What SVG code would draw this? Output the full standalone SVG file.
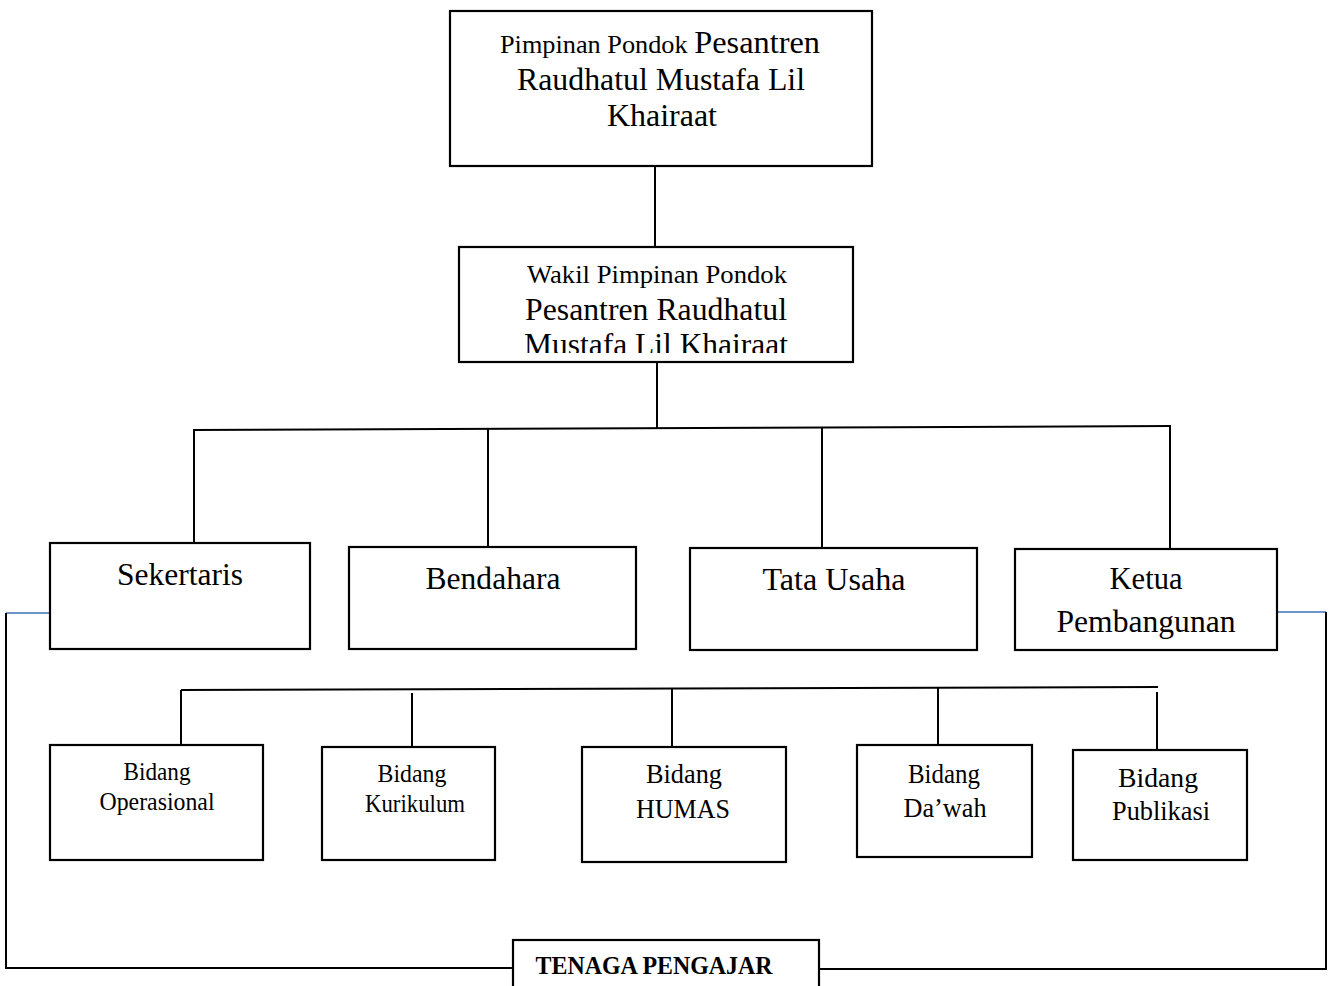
<svg xmlns="http://www.w3.org/2000/svg" width="1330" height="986" viewBox="0 0 1330 986">
<style>
.box{fill:#fff;stroke:#000;stroke-width:2.2}
.ln{fill:none;stroke:#000;stroke-width:2}
.bl{fill:none;stroke:#3f72b5;stroke-width:1.6}
text{font-family:"Liberation Serif","Times New Roman",serif;fill:#000;text-anchor:middle}
.big{font-size:32px}
.sm{font-size:26px}
.md{font-size:25px}
.hd{font-size:27px}
.tp{font-size:25px;font-weight:bold}
</style>
<defs>
<clipPath id="wclip"><rect x="459" y="247" width="394" height="106"/></clipPath>
</defs>
<g id="connectors">
<line class="ln" x1="655" y1="167" x2="655" y2="246"/>
<line class="ln" x1="657" y1="363" x2="657" y2="428"/>
<line class="ln" x1="193" y1="430" x2="1171" y2="426"/>
<line class="ln" x1="194" y1="430" x2="194" y2="543"/>
<line class="ln" x1="488" y1="429" x2="488" y2="547"/>
<line class="ln" x1="822" y1="427" x2="822" y2="548"/>
<line class="ln" x1="1170" y1="426" x2="1170" y2="549"/>
<line class="ln" x1="181" y1="690" x2="1158" y2="687"/>
<line class="ln" x1="181" y1="690" x2="181" y2="745"/>
<line class="ln" x1="412" y1="693" x2="412" y2="747"/>
<line class="ln" x1="672" y1="689" x2="672" y2="747"/>
<line class="ln" x1="938" y1="688" x2="938" y2="745"/>
<line class="ln" x1="1157" y1="692" x2="1157" y2="750"/>
<line class="bl" x1="50" y1="613" x2="6" y2="613"/>
<polyline class="ln" points="6,613 6,968 513,968"/>
<line class="bl" x1="1277" y1="612" x2="1326" y2="612"/>
<polyline class="ln" points="1326,612 1326,969 820,969"/>
</g>
<g id="pimpinan">
<rect class="box" x="450" y="11" width="422" height="155"/>
<text x="660" y="53" textLength="320" lengthAdjust="spacingAndGlyphs"><tspan class="sm">Pimpinan Pondok </tspan><tspan class="big">Pesantren</tspan></text>
<text class="big" x="661" y="90" textLength="288" lengthAdjust="spacingAndGlyphs">Raudhatul Mustafa Lil</text>
<text class="big" x="662" y="126" textLength="110" lengthAdjust="spacingAndGlyphs">Khairaat</text>
</g>
<g id="wakil">
<rect class="box" x="459" y="247" width="394" height="115"/>
<text class="sm" x="657" y="283" textLength="260" lengthAdjust="spacingAndGlyphs">Wakil Pimpinan Pondok</text>
<text class="big" x="656" y="320" textLength="262" lengthAdjust="spacingAndGlyphs">Pesantren Raudhatul</text>
<g clip-path="url(#wclip)"><text class="big" x="656" y="355" textLength="264" lengthAdjust="spacingAndGlyphs">Mustafa Lil Khairaat</text></g>
</g>
<g id="sekertaris">
<rect class="box" x="50" y="543" width="260" height="106"/>
<text class="big" x="180" y="585" textLength="126" lengthAdjust="spacingAndGlyphs">Sekertaris</text>
</g>
<g id="bendahara">
<rect class="box" x="349" y="547" width="287" height="102"/>
<text class="big" x="493" y="589" textLength="135" lengthAdjust="spacingAndGlyphs">Bendahara</text>
</g>
<g id="tata-usaha">
<rect class="box" x="690" y="548" width="287" height="102"/>
<text class="big" x="834" y="590" textLength="143" lengthAdjust="spacingAndGlyphs">Tata Usaha</text>
</g>
<g id="ketua-pembangunan">
<rect class="box" x="1015" y="549" width="262" height="101"/>
<text class="big" x="1146" y="589" textLength="73" lengthAdjust="spacingAndGlyphs">Ketua</text>
<text class="big" x="1146" y="632" textLength="179" lengthAdjust="spacingAndGlyphs">Pembangunan</text>
</g>
<g id="bidang-operasional">
<rect class="box" x="50" y="745" width="213" height="115"/>
<text class="md" x="157" y="780" textLength="67" lengthAdjust="spacingAndGlyphs">Bidang</text>
<text class="md" x="157" y="810" textLength="115" lengthAdjust="spacingAndGlyphs">Operasional</text>
</g>
<g id="bidang-kurikulum">
<rect class="box" x="322" y="747" width="173" height="113"/>
<text class="md" x="412" y="782" textLength="69" lengthAdjust="spacingAndGlyphs">Bidang</text>
<text class="md" x="415" y="812" textLength="100" lengthAdjust="spacingAndGlyphs">Kurikulum</text>
</g>
<g id="bidang-humas">
<rect class="box" x="582" y="747" width="204" height="115"/>
<text class="hd" x="684" y="783" textLength="76" lengthAdjust="spacingAndGlyphs">Bidang</text>
<text class="hd" x="683" y="818" textLength="94" lengthAdjust="spacingAndGlyphs">HUMAS</text>
</g>
<g id="bidang-dawah">
<rect class="box" x="857" y="745" width="175" height="112"/>
<text class="hd" x="944" y="783" textLength="72" lengthAdjust="spacingAndGlyphs">Bidang</text>
<text class="hd" x="945" y="817" textLength="83" lengthAdjust="spacingAndGlyphs">Da’wah</text>
</g>
<g id="bidang-publikasi">
<rect class="box" x="1073" y="750" width="174" height="110"/>
<text class="hd" x="1158" y="787" textLength="80" lengthAdjust="spacingAndGlyphs">Bidang</text>
<text class="hd" x="1161" y="820" textLength="98" lengthAdjust="spacingAndGlyphs">Publikasi</text>
</g>
<g id="tenaga-pengajar">
<rect class="box" x="513" y="940" width="306" height="60"/>
<text class="tp" x="654" y="974" textLength="237" lengthAdjust="spacingAndGlyphs">TENAGA PENGAJAR</text>
</g>
</svg>
